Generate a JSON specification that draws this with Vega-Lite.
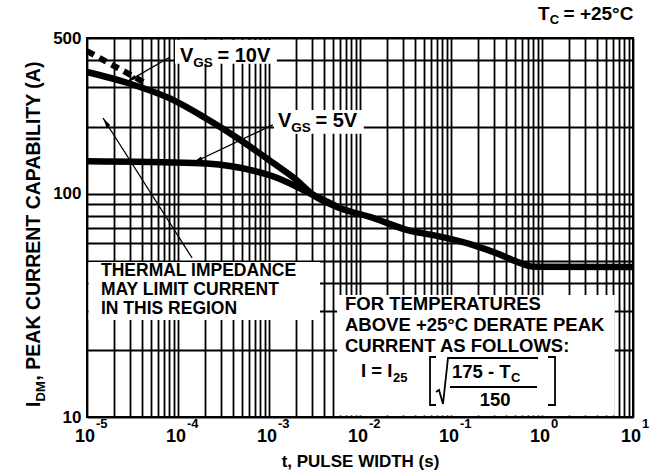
{
  "$schema": "https://vega.github.io/schema/vega-lite/v6.json",
  "width": 546,
  "height": 379,
  "autosize": {"type": "none"},
  "padding": {"left": 87, "top": 38, "right": 17, "bottom": 57},
  "background": "white",
  "config": {
    "font": "Liberation Sans",
    "view": {"stroke": "black", "strokeWidth": 2},
    "mark": {"color": "black"},
    "text": {"font": "Liberation Sans", "fontWeight": "bold", "color": "black"}
  },
  "datasets": {
    "xl": [
      {"t": 0.00001, "I": 10, "b": "10", "e": "-5"},
      {"t": 0.0001, "I": 10, "b": "10", "e": "-4"},
      {"t": 0.001, "I": 10, "b": "10", "e": "-3"},
      {"t": 0.01, "I": 10, "b": "10", "e": "-2"},
      {"t": 0.1, "I": 10, "b": "10", "e": "-1"},
      {"t": 1, "I": 10, "b": "10", "e": "0"},
      {"t": 10, "I": 10, "b": "10", "e": "1"}
    ]
  },
  "encoding": {
    "x": {
      "field": "t", "type": "quantitative",
      "scale": {"type": "log", "domain": [0.00001, 10], "nice": false},
      "axis": {
        "values": [0.00001,0.00002,0.00003,0.00004,0.00005,0.00006,0.00007,0.00008,0.00009,
                   0.0001,0.0002,0.0003,0.0004,0.0005,0.0006,0.0007,0.0008,0.0009,
                   0.001,0.002,0.003,0.004,0.005,0.006,0.007,0.008,0.009,
                   0.01,0.02,0.03,0.04,0.05,0.06,0.07,0.08,0.09,
                   0.1,0.2,0.3,0.4,0.5,0.6,0.7,0.8,0.9,
                   1,2,3,4,5,6,7,8,9,10],
        "labels": false, "ticks": false, "domain": false,
        "grid": true, "gridColor": "black", "gridWidth": 1.8, "gridOpacity": 1,
        "title": "t, PULSE WIDTH (s)",
        "titleFont": "Liberation Sans", "titleFontSize": 17, "titleFontWeight": "bold",
        "titleColor": "black", "titlePadding": 36
      }
    },
    "y": {
      "field": "I", "type": "quantitative",
      "scale": {"type": "log", "domain": [10, 500], "nice": false},
      "axis": {
        "values": [10,20,30,40,50,60,70,80,90,100,200,300,400,500],
        "labelExpr": "(datum.value == 10 || datum.value == 100 || datum.value == 500) ? format(datum.value, 'd') : ''",
        "labelFont": "Liberation Sans", "labelFontSize": 17, "labelFontWeight": "bold",
        "labelColor": "black", "labelPadding": 6, "labelOverlap": false,
        "ticks": false, "domain": false,
        "grid": true, "gridColor": "black", "gridWidth": 1.8, "gridOpacity": 1,
        "title": null
      }
    }
  },
  "layer": [
    {
      "data": {"values": [
        {"t": 0.0000926, "t2": 0.00122, "I": 490, "I2": 383},
        {"t": 0.001135, "t2": 0.011, "I": 238, "I2": 186},
        {"t": 0.0000104, "t2": 0.00363, "I": 49.5, "I2": 27.2},
        {"t": 0.0056, "t2": 6.3, "I": 35.2, "I2": 10.15}
      ]},
      "mark": {"type": "rect", "fill": "white", "strokeWidth": 0},
      "encoding": {"x2": {"field": "t2"}, "y2": {"field": "I2"}}
    },
    {
      "data": {"values": [
        {"t": 0.00001, "I": 352}, {"t": 0.0000275, "I": 315}, {"t": 0.000088, "I": 264},
        {"t": 0.0002, "I": 219}, {"t": 0.00048, "I": 175}, {"t": 0.0011, "I": 138},
        {"t": 0.002, "I": 115.6}, {"t": 0.00305, "I": 99}, {"t": 0.006, "I": 86.5},
        {"t": 0.014, "I": 78}, {"t": 0.0326, "I": 69}, {"t": 0.076, "I": 64.4},
        {"t": 0.176, "I": 59}, {"t": 0.318, "I": 54.2}, {"t": 0.527, "I": 49.7},
        {"t": 0.8, "I": 47.2}, {"t": 10, "I": 47}
      ]},
      "mark": {"type": "line", "strokeWidth": 6.5, "strokeCap": "butt", "interpolate": "monotone", "color": "black"}
    },
    {
      "data": {"values": [
        {"t": 0.00001, "I": 140}, {"t": 0.00015, "I": 137.5}, {"t": 0.00048, "I": 131},
        {"t": 0.0011, "I": 120}, {"t": 0.002, "I": 108}, {"t": 0.00305, "I": 99},
        {"t": 0.006, "I": 86.5}
      ]},
      "mark": {"type": "line", "strokeWidth": 6.5, "strokeCap": "butt", "interpolate": "monotone", "color": "black"}
    },
    {
      "data": {"values": [{"t": 0.00001, "I": 437}, {"t": 0.000042, "I": 317}]},
      "mark": {"type": "line", "strokeWidth": 6, "strokeDash": [8, 6], "strokeCap": "butt", "color": "black"}
    },
    {
      "data": {"values": [
        {"id": "th", "k": 1, "t": 0.000143, "I": 51.6}, {"id": "th", "k": 2, "t": 0.000015, "I": 219},
        {"id": "v10", "k": 1, "t": 0.0000818, "I": 411}, {"id": "v10", "k": 2, "t": 0.0000275, "I": 318},
        {"id": "v5", "k": 1, "t": 0.0011, "I": 204}, {"id": "v5", "k": 2, "t": 0.000146, "I": 138}
      ]},
      "mark": {"type": "line", "strokeWidth": 1.3, "color": "black"},
      "encoding": {"detail": {"field": "id"}, "order": {"field": "k"}}
    },
    {
      "data": {"values": [{"t": 0.000015, "I": 219}]},
      "mark": {"type": "point", "shape": "M0,0L0.9,4L-0.9,4Z", "size": 25, "filled": true, "opacity": 1, "angle": -32.8, "color": "black"}
    },
    {
      "data": {"values": [{"t": 0.0000275, "I": 318}]},
      "mark": {"type": "point", "shape": "M0,0L0.9,4L-0.9,4Z", "size": 25, "filled": true, "opacity": 1, "angle": -120, "color": "black"}
    },
    {
      "data": {"values": [{"t": 0.000146, "I": 138}]},
      "mark": {"type": "point", "shape": "M0,0L0.9,4L-0.9,4Z", "size": 25, "filled": true, "opacity": 1, "angle": -115.4, "color": "black"}
    },
    {
      "data": {"values": [
        {"id": "lb", "k": 1, "t": 0.0684, "I": 18.58}, {"id": "lb", "k": 2, "t": 0.0588, "I": 18.58},
        {"id": "lb", "k": 3, "t": 0.0588, "I": 11.32}, {"id": "lb", "k": 4, "t": 0.0684, "I": 11.32},
        {"id": "rb", "k": 1, "t": 1.164, "I": 18.58}, {"id": "rb", "k": 2, "t": 1.39, "I": 18.58},
        {"id": "rb", "k": 3, "t": 1.39, "I": 11.32}, {"id": "rb", "k": 4, "t": 1.164, "I": 11.32},
        {"id": "rad", "k": 1, "t": 0.0684, "I": 12.95}, {"id": "rad", "k": 2, "t": 0.0738, "I": 13.21},
        {"id": "rad", "k": 3, "t": 0.0817, "I": 11.44}, {"id": "rad", "k": 4, "t": 0.0927, "I": 18.39},
        {"id": "rad", "k": 5, "t": 0.904, "I": 18.39},
        {"id": "bar", "k": 1, "t": 0.0975, "I": 13.63}, {"id": "bar", "k": 2, "t": 0.881, "I": 13.63}
      ]},
      "mark": {"type": "line", "strokeWidth": 1.8, "color": "black"},
      "encoding": {"detail": {"field": "id"}, "order": {"field": "k"}}
    },
    {
      "data": {"values": [{"t": 0.904, "I": 603, "s": "T"}]},
      "mark": {"type": "text", "align": "left", "baseline": "alphabetic", "fontSize": 19},
      "encoding": {"text": {"field": "s"}}
    },
    {
      "data": {"values": [{"t": 0.904, "I": 603, "s": "C"}]},
      "mark": {"type": "text", "align": "left", "baseline": "alphabetic", "fontSize": 13, "dx": 11.8, "dy": 4},
      "encoding": {"text": {"field": "s"}}
    },
    {
      "data": {"values": [{"t": 0.904, "I": 603, "s": "= +25°C"}]},
      "mark": {"type": "text", "align": "left", "baseline": "alphabetic", "fontSize": 19, "dx": 25.5},
      "encoding": {"text": {"field": "s"}}
    },
    {
      "data": {"values": [{"t": 0.0001052, "I": 390.8, "s": "V"}, {"t": 0.001256, "I": 200, "s": "V"}]},
      "mark": {"type": "text", "align": "left", "baseline": "alphabetic", "fontSize": 20},
      "encoding": {"text": {"field": "s"}}
    },
    {
      "data": {"values": [{"t": 0.0001052, "I": 390.8, "s": "GS"}, {"t": 0.001256, "I": 200, "s": "GS"}]},
      "mark": {"type": "text", "align": "left", "baseline": "alphabetic", "fontSize": 13.5, "dx": 13.3, "dy": 5},
      "encoding": {"text": {"field": "s"}}
    },
    {
      "data": {"values": [{"t": 0.0001052, "I": 390.8, "s": "= 10V"}, {"t": 0.001256, "I": 200, "s": "= 5V"}]},
      "mark": {"type": "text", "align": "left", "baseline": "alphabetic", "fontSize": 20, "dx": 37.5},
      "encoding": {"text": {"field": "s"}}
    },
    {
      "data": {"values": [{"t": 0.00001425, "I": 42.9, "s": "THERMAL IMPEDANCE\nMAY LIMIT CURRENT\nIN THIS REGION"}]},
      "mark": {"type": "text", "align": "left", "baseline": "alphabetic", "fontSize": 17.5, "lineHeight": 19, "lineBreak": "\n"},
      "encoding": {"text": {"field": "s"}}
    },
    {
      "data": {"values": [{"t": 0.00684, "I": 30.3, "s": "FOR TEMPERATURES\nABOVE +25°C DERATE PEAK\nCURRENT AS FOLLOWS:"}]},
      "mark": {"type": "text", "align": "left", "baseline": "alphabetic", "fontSize": 18.5, "lineHeight": 21, "lineBreak": "\n"},
      "encoding": {"text": {"field": "s"}}
    },
    {
      "data": {"values": [{"t": 0.01026, "I": 15.1, "s": "I = I"}, {"t": 0.1026, "I": 14.96, "s": "175 - T"}]},
      "mark": {"type": "text", "align": "left", "baseline": "alphabetic", "fontSize": 18.5},
      "encoding": {"text": {"field": "s"}}
    },
    {
      "data": {"values": [{"t": 0.023, "I": 14.35, "s": "25"}, {"t": 0.4561, "I": 14.35, "s": "C"}]},
      "mark": {"type": "text", "align": "left", "baseline": "alphabetic", "fontSize": 13},
      "encoding": {"text": {"field": "s"}}
    },
    {
      "data": {"values": [{"t": 0.305, "I": 11.2, "s": "150"}]},
      "mark": {"type": "text", "align": "center", "baseline": "alphabetic", "fontSize": 18.5},
      "encoding": {"text": {"field": "s"}}
    },
    {
      "data": {"name": "xl"},
      "mark": {"type": "text", "align": "right", "baseline": "alphabetic", "fontSize": 18, "dx": 8, "dy": 25},
      "encoding": {"text": {"field": "b"}}
    },
    {
      "data": {"name": "xl"},
      "mark": {"type": "text", "align": "left", "baseline": "alphabetic", "fontSize": 13, "dx": 9, "dy": 11},
      "encoding": {"text": {"field": "e"}}
    },
    {
      "data": {"values": [{"t": 0.00001, "I": 11.09, "s": "I"}]},
      "mark": {"type": "text", "align": "left", "baseline": "alphabetic", "fontSize": 19.5, "angle": 270, "dx": 0, "dy": -47},
      "encoding": {"text": {"field": "s"}}
    },
    {
      "data": {"values": [{"t": 0.00001, "I": 11.09, "s": "DM"}]},
      "mark": {"type": "text", "align": "left", "baseline": "alphabetic", "fontSize": 13, "angle": 270, "dx": 5.5, "dy": -42},
      "encoding": {"text": {"field": "s"}}
    },
    {
      "data": {"values": [{"t": 0.00001, "I": 11.09, "s": ", PEAK CURRENT CAPABILITY (A)"}]},
      "mark": {"type": "text", "align": "left", "baseline": "alphabetic", "fontSize": 19.5, "angle": 270, "dx": 26.5, "dy": -47},
      "encoding": {"text": {"field": "s"}}
    }
  ]
}
